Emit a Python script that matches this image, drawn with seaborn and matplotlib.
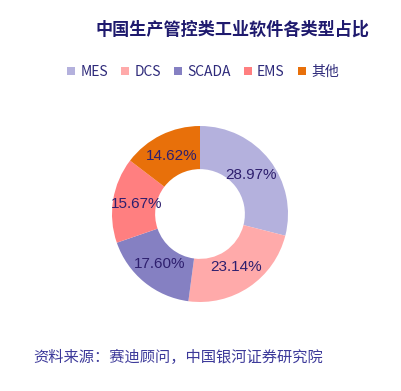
import matplotlib
matplotlib.use("Agg")
import matplotlib.pyplot as plt
import seaborn as sns
from matplotlib.patches import Patch

categories = ["MES", "DCS", "SCADA", "EMS", "其他"]
values = [28.97, 23.14, 17.60, 15.67, 14.62]
colors = ["#b4b1dd", "#ffaaaa", "#8580c2", "#ff7f80", "#e8700a"]

title = "中国生产管控类工业软件各类型占比"
source = "资料来源：赛迪顾问，中国银河证券研究院"

sns.set_theme(style="white")
plt.rcParams['font.family'] = ['Noto Sans CJK SC', 'DejaVu Sans']

W, H = 402, 391
fig = plt.figure(figsize=(W / 100, H / 100), dpi=100)
fig.patch.set_facecolor("white")

cx, cy, r = 200, 214, 88
ax = fig.add_axes([(cx - r) / W, (H - cy - r) / H, 2 * r / W, 2 * r / H])
wedges, texts, autotexts = ax.pie(
    values, colors=colors, startangle=90, counterclock=False,
    radius=1.0, wedgeprops=dict(width=0.49, edgecolor="none"),
    autopct="%.2f%%", pctdistance=0.73,
    textprops=dict(color="#2e1f6e", fontsize=11, family="Liberation Sans"))
ax.set_xlim(-1, 1)
ax.set_ylim(-1, 1)
ax.set_aspect("auto")
ax.axis("off")

fig.text(233 / W, 1 - 30 / H, title, ha="center", va="center",
         fontsize=12.3, fontweight="bold", color="#1f1a6e")

handles = [Patch(facecolor=c, edgecolor="none") for c in colors]
fig.legend(handles, categories, loc="center", bbox_to_anchor=(203 / W, 1 - 72 / H),
           ncol=5, frameon=False, fontsize=10, handlelength=0.55, handleheight=0.55,
           handletextpad=0.4, columnspacing=0.95, labelcolor="#2e2a7a")

fig.text(33 / W, 1 - 357 / H, source, ha="left", va="center",
         fontsize=11.0, color="#3d3a9a")

fig.savefig("out.png", dpi=100, facecolor="white")
